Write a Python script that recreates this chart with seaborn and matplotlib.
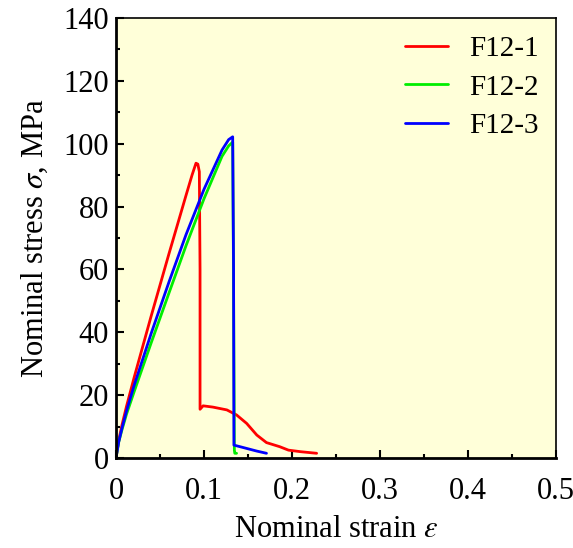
import matplotlib
matplotlib.use("Agg")
import pandas as pd
import matplotlib.pyplot as plt
import seaborn as sns
from matplotlib.ticker import MultipleLocator

# (strain, stress in MPa)
strain_1 = [0, 0.003, 0.0068, 0.012, 0.0205, 0.0398, 0.0602, 0.0795, 0.0864, 0.0909,
            0.093, 0.0947, 0.0955, 0.0955, 0.099, 0.110, 0.126, 0.137, 0.1485, 0.160,
            0.171, 0.186, 0.196, 0.210, 0.228]
stress_1 = [0, 5.5, 10.5, 16.5, 25.5, 45.0, 65.0, 83.5, 90.0, 93.8,
            93.5, 91.1, 60, 15.5, 16.6, 16.2, 15.3, 13.7, 11.0, 7.3,
            4.9, 3.6, 2.5, 2.0, 1.5]

strain_2 = [0, 0.003, 0.0068, 0.012, 0.0205, 0.0398, 0.0602, 0.0795, 0.100, 0.1205,
            0.128, 0.1326, 0.1335, 0.1345, 0.135, 0.137]
stress_2 = [0, 5.0, 9.0, 14.0, 21.0, 36.5, 52.5, 67.5, 82.5, 96.0,
            99.3, 100.5, 60, 2.5, 1.5, 1.5]

strain_3 = [0, 0.003, 0.0068, 0.012, 0.0205, 0.0398, 0.0602, 0.0795, 0.100, 0.1205,
            0.128, 0.1326, 0.1336, 0.134, 0.145, 0.160, 0.171]
stress_3 = [0, 5.0, 9.5, 15.0, 23.0, 39.5, 56.0, 71.0, 85.5, 98.0,
            101.3, 102.2, 60, 4.1, 3.3, 2.2, 1.5]

labels = ["F12-1", "F12-2", "F12-3"]
colors = ["#ff0000", "#00ee00", "#0000ff"]

frames = []
for lab, xs, ys in zip(labels, [strain_1, strain_2, strain_3], [stress_1, stress_2, stress_3]):
    frames.append(pd.DataFrame({"strain": xs, "stress": ys, "specimen": lab}))
data = pd.concat(frames, ignore_index=True)

sns.set_style("ticks")
plt.rcParams["font.family"] = ["Liberation Serif", "DejaVu Serif"]
plt.rcParams["mathtext.fontset"] = "stix"
plt.rcParams["text.color"] = "black"
plt.rcParams["axes.labelcolor"] = "black"
plt.rcParams["xtick.color"] = "black"
plt.rcParams["ytick.color"] = "black"
plt.rcParams["axes.edgecolor"] = "black"

fig = plt.figure(figsize=(5.73, 5.48), dpi=100)
ax = fig.add_axes([116 / 573, 1 - 458 / 548, 440 / 573, 440 / 548])
ax.set_facecolor("#ffffd9")

sns.lineplot(data=data, x="strain", y="stress", hue="specimen", palette=colors,
             sort=False, estimator=None, units="specimen", lw=2, ax=ax)

ax.set_xlim(0, 0.5)
ax.set_ylim(0, 140)
ax.xaxis.set_minor_locator(MultipleLocator(0.05))
ax.yaxis.set_major_locator(MultipleLocator(20))
ax.yaxis.set_minor_locator(MultipleLocator(10))
ax.set_xticks([0, 0.1, 0.2, 0.3, 0.4, 0.5])
ax.set_xticklabels(["0", "0.1", "0.2", "0.3", "0.4", "0.5"])
ax.tick_params(which="both", direction="in", top=False, right=False, labelsize=22, width=1.5)
ax.tick_params(which="major", length=6)
ax.tick_params(which="minor", length=3)
ax.tick_params(axis="x", which="major", pad=14)
ax.tick_params(axis="y", which="major", pad=5)
for side in ["left", "bottom"]:
    ax.spines[side].set_linewidth(2)
for side in ["top", "right"]:
    ax.spines[side].set_linewidth(1.2)

ax.set_xlabel(r"Nominal strain $\varepsilon$", fontsize=22, labelpad=6)
ax.set_ylabel(r"Nominal stress $\sigma$, MPa", fontsize=22, labelpad=10)

ax.legend(loc="upper right", bbox_to_anchor=(1.0, 1.0), frameon=False, fontsize=21,
          handlelength=1.5, handletextpad=0.7, labelspacing=0.42, borderaxespad=0.2, title=None)

fig.savefig("out.png", dpi=100, facecolor="white")
